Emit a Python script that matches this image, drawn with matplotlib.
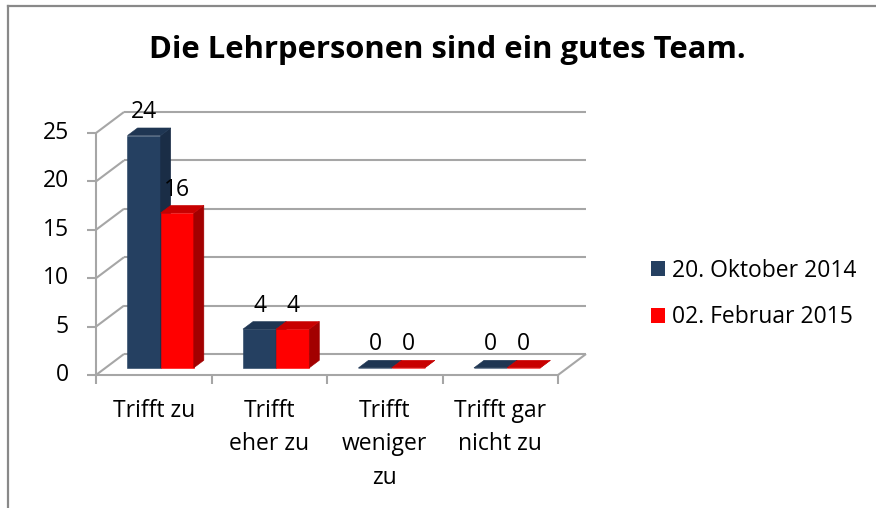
import matplotlib
matplotlib.use("Agg")
import matplotlib.pyplot as plt
from matplotlib.patches import Polygon, Patch
from matplotlib.lines import Line2D

# ── data ───────────────────────────────────────────────────────────────────
title = "Die Lehrpersonen sind ein gutes Team."
categories = ["Trifft zu", "Trifft\neher zu", "Trifft\nweniger\nzu", "Trifft gar\nnicht zu"]
series_names = ["20. Oktober 2014", "02. Februar 2015"]
oct_2014 = [24, 4, 0, 0]
feb_2015 = [16, 4, 0, 0]
y_ticks = [0, 5, 10, 15, 20, 25]

# front / side / top shades per series
shades = [
    ("#254061", "#1A2D46", "#1F3653"),
    ("#FF0000", "#A20000", "#C80000"),
]
grid_col = "#A6A6A6"
FS = 16.5

plt.rcParams["font.family"] = ["Open Sans", "DejaVu Sans"]

W, H = 876, 508
fig = plt.figure(figsize=(W / 100, H / 100), dpi=100)

# front face of the plot box, in pixels
px0, px1 = 96, 558
py0, py1 = 375, 133
ax = fig.add_axes([px0 / W, 1 - py0 / H, (px1 - px0) / W, (py0 - py1) / H])
ax.set_xlim(0, len(categories))
ax.set_ylim(0, y_ticks[-1])
ax.axis("off")

ncat = len(categories)
ux = (px1 - px0) / ncat          # px per category
uy = (py0 - py1) / y_ticks[-1]   # px per value unit
DX = 28 / ux                     # depth offset in data units
DY = 21 / uy


def proj(x, y, f):
    """Oblique projection: f = 0 front, f = 1 back wall."""
    return (x + f * DX, y + f * DY)


def line(pts, **kw):
    xs, ys = zip(*pts)
    ax.add_line(Line2D(xs, ys, color=grid_col, lw=1.5, clip_on=False,
                       solid_capstyle="butt", **kw))


# ── walls and floor ──
for v in y_ticks:
    line([proj(0, v, 1), proj(ncat, v, 1)])        # back wall grid
    line([proj(0, v, 0), proj(0, v, 1)])           # side wall
    line([(0, v), (-9 / ux, v)])                   # tick mark
    ax.annotate(str(v), (0, v), xytext=(-27 * 0.72, 0), textcoords="offset points",
                ha="right", va="center", fontsize=FS)
line([(0, 0), (0, y_ticks[-1])])
line([(0, 0), (ncat, 0), proj(ncat, 0, 1)])
for i in range(ncat + 1):
    line([(i, 0), (i, -9 / uy)])

# ── bars ──
f0, f1 = 0.34, 0.70
bw = 0.287
for i in range(ncat):
    for s, vals in enumerate([oct_2014, feb_2015]):
        v = vals[i]
        l = i + 0.19 + s * bw
        r = l + bw
        front, side, top = shades[s]
        faces = [
            ([proj(l, 0, f0), proj(r, 0, f0), proj(r, v, f0), proj(l, v, f0)], front),
            ([proj(r, 0, f0), proj(r, 0, f1), proj(r, v, f1), proj(r, v, f0)], side),
            ([proj(l, v, f0), proj(r, v, f0), proj(r, v, f1), proj(l, v, f1)], top),
        ]
        for pts, c in faces:
            ax.add_patch(Polygon(pts, closed=True, facecolor=c, edgecolor=c,
                                 lw=0.4, clip_on=False, zorder=3))
        ax.annotate(str(v), proj((l + r) / 2, v, f0), xytext=(0, 12.5),
                    textcoords="offset points", ha="center", va="baseline",
                    fontsize=FS, zorder=5)

# ── category labels ──
for i, lab in enumerate(categories):
    ax.annotate(lab, (i + 0.5, 0), xytext=(0, -17), textcoords="offset points",
                ha="center", va="top", fontsize=FS, linespacing=1.54)

# ── title and legend ──
fig.text(447 / W, 1 - 58 / H, title, ha="center", va="baseline",
         fontsize=22.3, fontweight="bold")

handles = [Patch(facecolor=shades[k][0], edgecolor="none") for k in range(2)]
fig.legend(handles, series_names, loc="center left",
           bbox_to_anchor=(640 / W, 1 - 294 / H), frameon=False, fontsize=FS,
           handlelength=0.6, handleheight=0.6, handletextpad=0.3,
           labelspacing=1.0, borderpad=0)

# chart area border (left and top edges only are visible)
fig.add_artist(Line2D([8 / W, 8 / W], [0, 1 - 6 / H], color="#898989", lw=1.6))
fig.add_artist(Line2D([8 / W, 1], [1 - 6 / H, 1 - 6 / H], color="#898989", lw=1.6))

fig.savefig("out.png", dpi=100)
